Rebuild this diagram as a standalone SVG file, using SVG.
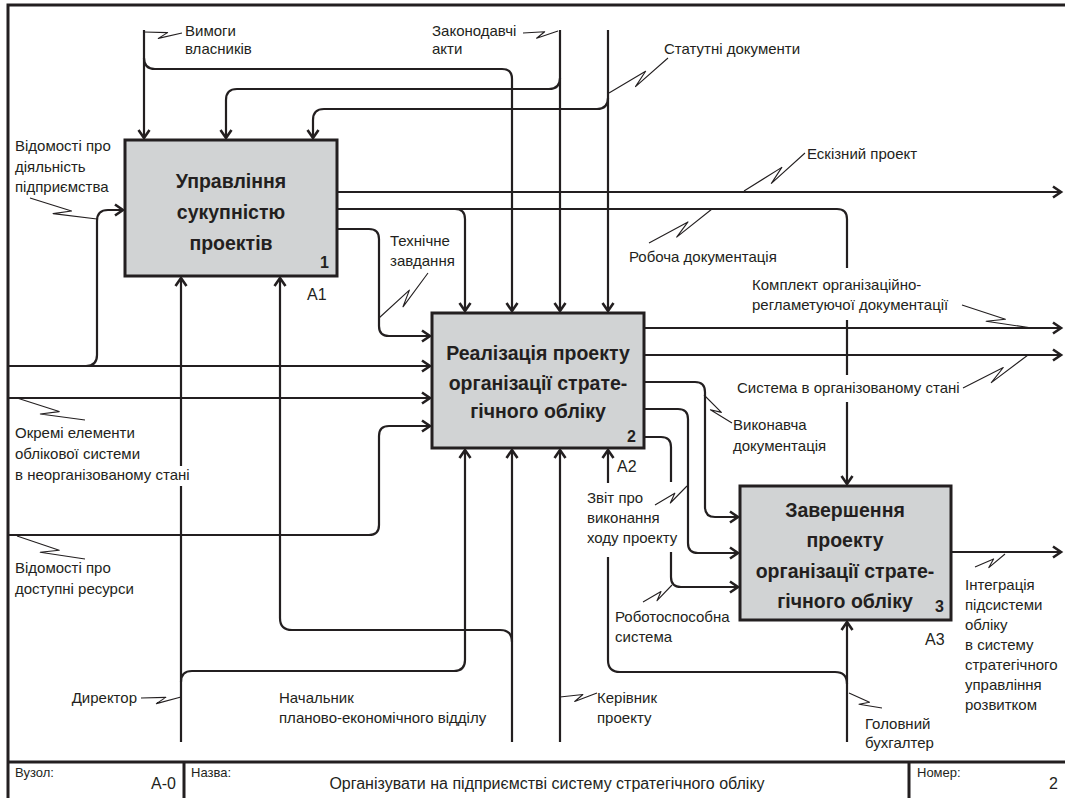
<svg xmlns="http://www.w3.org/2000/svg" width="1065" height="798" viewBox="0 0 1065 798">
<defs>
<marker id="ah" markerUnits="userSpaceOnUse" markerWidth="14" markerHeight="14" viewBox="0 0 14 14" refX="11" refY="7" orient="auto">
<path d="M3,1.5 L11,7 L3,12.5" fill="none" stroke="#231f20" stroke-width="2.6"/>
</marker>
<style>
.ln{fill:none;stroke:#231f20;stroke-width:2.2}
.arr{marker-end:url(#ah)}
.sq{fill:none;stroke:#231f20;stroke-width:1.1;stroke-linejoin:round}
.box{fill:#d1d3d4;stroke:#231f20;stroke-width:3}
.fr{fill:none;stroke:#231f20;stroke-width:3}
text{font-family:"Liberation Sans",Arial,sans-serif;fill:#231f20}
.t{font-size:15px}
.bt{font-size:19.5px;font-weight:bold;text-anchor:middle}
.num{font-size:16px;font-weight:bold;text-anchor:end}
.lbl{font-size:16px}
.sm{font-size:13px}
</style>
</defs>
<rect width="1065" height="798" fill="#ffffff"/>

<g id="frame">
<path class="fr" d="M8,798 V5 H1065"/>
<path class="fr" d="M8,762 H1065 M184,762 V798 M909,762 V798"/>
<text class="sm" x="15" y="777">Вузол:</text>
<text class="lbl" x="176" y="789" text-anchor="end">A-0</text>
<text class="sm" x="191" y="777">Назва:</text>
<text class="lbl" x="547" y="789" text-anchor="middle">Організувати на підприємстві систему стратегічного обліку</text>
<text class="sm" x="917" y="777">Номер:</text>
<text class="lbl" x="1058" y="789" text-anchor="end">2</text>
</g>

<g id="connectors">
<!-- controls -->
<path class="ln arr" d="M144,30 V138"/>
<path class="ln arr" d="M144,58 Q144,69 155,69 H502 Q512,69 512,79 V311"/>
<path class="ln arr" d="M560,30 V311"/>
<path class="ln arr" d="M560,78 Q560,89 549,89 H237 Q226,89 226,100 V138"/>
<path class="ln arr" d="M608,30 V311"/>
<path class="ln arr" d="M608,98 Q608,109 597,109 H324 Q313,109 313,120 V138"/>
<!-- box1 outputs -->
<path class="ln arr" d="M337,192 H1061"/>
<path class="ln arr" d="M337,209 H455 Q465,209 465,219 V311"/>
<path class="ln arr" d="M455,209 H837 Q847,209 847,219 V268 M847,320 V375 M847,402 V484"/>
<path class="ln arr" d="M337,229 H369 Q379,229 379,239 V326 Q379,336 389,336 H430"/>
<!-- inputs -->
<path class="ln arr" d="M8,366 H430"/>
<path class="ln arr" d="M86,366 Q97,366 97,355 V221 Q97,210 108,210 H123"/>
<path class="ln arr" d="M8,398 H430"/>
<path class="ln arr" d="M8,535 H369 Q379,535 379,525 V436 Q379,426 389,426 H430"/>
<!-- box2 outputs -->
<path class="ln arr" d="M644,328 H1061"/>
<path class="ln arr" d="M644,355 H1061"/>
<path class="ln arr" d="M644,382 H695 Q705,382 705,392 V507 Q705,517 715,517 H738"/>
<path class="ln arr" d="M644,409 H678 Q688,409 688,419 V543 Q688,553 698,553 H738"/>
<path class="ln arr" d="M644,437 H661 Q671,437 671,447 V482 M671,552 V577 Q671,587 681,587 H738"/>
<!-- box3 output -->
<path class="ln arr" d="M951,552 H1061"/>
<!-- mechanisms -->
<path class="ln arr" d="M181,742 V486 M181,466 V278"/>
<path class="ln arr" d="M181,682 Q181,671 192,671 H454 Q465,671 465,660 V450"/>
<path class="ln arr" d="M512,742 V450"/>
<path class="ln arr" d="M512,642 Q512,630 500,630 H292 Q280,630 280,618 V278"/>
<path class="ln arr" d="M560,742 V450"/>
<path class="ln arr" d="M847,742 V622"/>
<path class="ln arr" d="M847,684 Q847,672 835,672 H620 Q608,672 608,660 V557 M608,483 V450"/>

<!-- squiggles -->
<path class="sq" d="M144,32 L167.6,32.6 L158.3,38.4 L182,33"/>
<path class="sq" d="M523,33 L544.7,31.8 L536.6,38.2 L558,31"/>
<path class="sq" d="M609,93 L645.6,71.3 L635.5,86.6 L668,58"/>
<path class="sq" d="M30,198 L71.5,211 L53.1,213.6 L97,219"/>
<path class="sq" d="M379,318 L409.4,290.1 L403,306.8 L428,273"/>
<path class="sq" d="M744,191 L781.8,167.4 L771.4,183.4 L805,153"/>
<path class="sq" d="M649,243 L688,221.9 L676.7,237.1 L712,209"/>
<path class="sq" d="M962,305 L1005.4,319.3 L986.1,321.3 L1032,328"/>
<path class="sq" d="M963,388 L1003.3,367.5 L991.3,382.6 L1028,355"/>
<path class="sq" d="M704,395 L721.4,412.4 L710.4,409.8 L732,423"/>
<path class="sq" d="M655,505 L674.8,493.2 L670.3,503 L687,486"/>
<path class="sq" d="M643,602 L661,591.5 L657,600.7 L672,585"/>
<path class="sq" d="M17,398 L59.2,411.6 L40.3,414 L85,420"/>
<path class="sq" d="M17,536 L59.2,550.3 L40.2,552.3 L85,559"/>
<path class="sq" d="M141,698 L165.8,697.4 L156.4,703.6 L181,697"/>
<path class="sq" d="M560,697 L582.9,694.5 L574.7,701.5 L597,693"/>
<path class="sq" d="M849,693 L869.5,702.3 L859,704.2 L882,708"/>
<path class="sq" d="M975,567 L993.6,558.9 L988.8,567.6 L1005,554"/>

<!-- labels -->
<text class="t" x="185" y="36">Вимоги</text>
<text class="t" x="185" y="54">власників</text>
<text class="t" x="432" y="36">Законодавчі</text>
<text class="t" x="432" y="54">акти</text>
<text class="t" x="664" y="54">Статутні документи</text>
<text class="t" x="15" y="151">Відомості про</text>
<text class="t" x="15" y="172">діяльність</text>
<text class="t" x="15" y="192">підприємства</text>
<text class="t" x="807" y="159">Ескізний проект</text>
<text class="t" x="390" y="246">Технічне</text>
<text class="t" x="390" y="266">завдання</text>
<text class="t" x="629" y="262">Робоча документація</text>
<text class="t" x="752" y="290">Комплект організаційно-</text>
<text class="t" x="752" y="310">регламетуючої документації</text>
<text class="t" x="737" y="393">Система в організованому стані</text>
<text class="t" x="733" y="430">Виконавча</text>
<text class="t" x="733" y="451">документація</text>
<text class="t" x="15" y="438">Окремі елементи</text>
<text class="t" x="15" y="459">облікової системи</text>
<text class="t" x="15" y="480">в неорганізованому стані</text>
<text class="t" x="15" y="573">Відомості про</text>
<text class="t" x="15" y="594">доступні ресурси</text>
<text class="t" x="587" y="503">Звіт про</text>
<text class="t" x="587" y="523">виконання</text>
<text class="t" x="587" y="543">ходу проекту</text>
<text class="t" x="615" y="622">Роботоспособна</text>
<text class="t" x="615" y="642">система</text>
<text class="t" x="965" y="590">Інтеграція</text>
<text class="t" x="965" y="610">підсистеми</text>
<text class="t" x="965" y="630">обліку</text>
<text class="t" x="965" y="650">в систему</text>
<text class="t" x="965" y="670">стратегічного</text>
<text class="t" x="965" y="690">управління</text>
<text class="t" x="965" y="710">розвитком</text>
<text class="t" x="137" y="703" text-anchor="end">Директор</text>
<text class="t" x="279" y="703">Начальник</text>
<text class="t" x="279" y="723">планово-економічного відділу</text>
<text class="t" x="597" y="703">Керівник</text>
<text class="t" x="597" y="723">проекту</text>
<text class="t" x="865" y="729">Головний</text>
<text class="t" x="865" y="748">бухгалтер</text>
</g>

<g id="node-A1">
<rect class="box" x="125" y="140" width="212" height="136"/>
<text class="bt" x="231" y="188">Управління</text>
<text class="bt" x="231" y="219">сукупністю</text>
<text class="bt" x="231" y="250">проектів</text>
<text class="num" x="329" y="268">1</text>
<text class="lbl" x="307" y="300">A1</text>
</g>

<g id="node-A2">
<rect class="box" x="432" y="313" width="212" height="135"/>
<text class="bt" x="538" y="360">Реалізація проекту</text>
<text class="bt" x="538" y="390">організації страте-</text>
<text class="bt" x="538" y="418">гічного обліку</text>
<text class="num" x="636" y="442">2</text>
<text class="lbl" x="617" y="472">A2</text>
</g>

<g id="node-A3">
<rect class="box" x="740" y="486" width="211" height="134"/>
<text class="bt" x="845" y="517">Завершення</text>
<text class="bt" x="845" y="547">проекту</text>
<text class="bt" x="845" y="578">організації страте-</text>
<text class="bt" x="845" y="608">гічного обліку</text>
<text class="num" x="944" y="612">3</text>
<text class="lbl" x="925" y="645">A3</text>
</g>
</svg>
